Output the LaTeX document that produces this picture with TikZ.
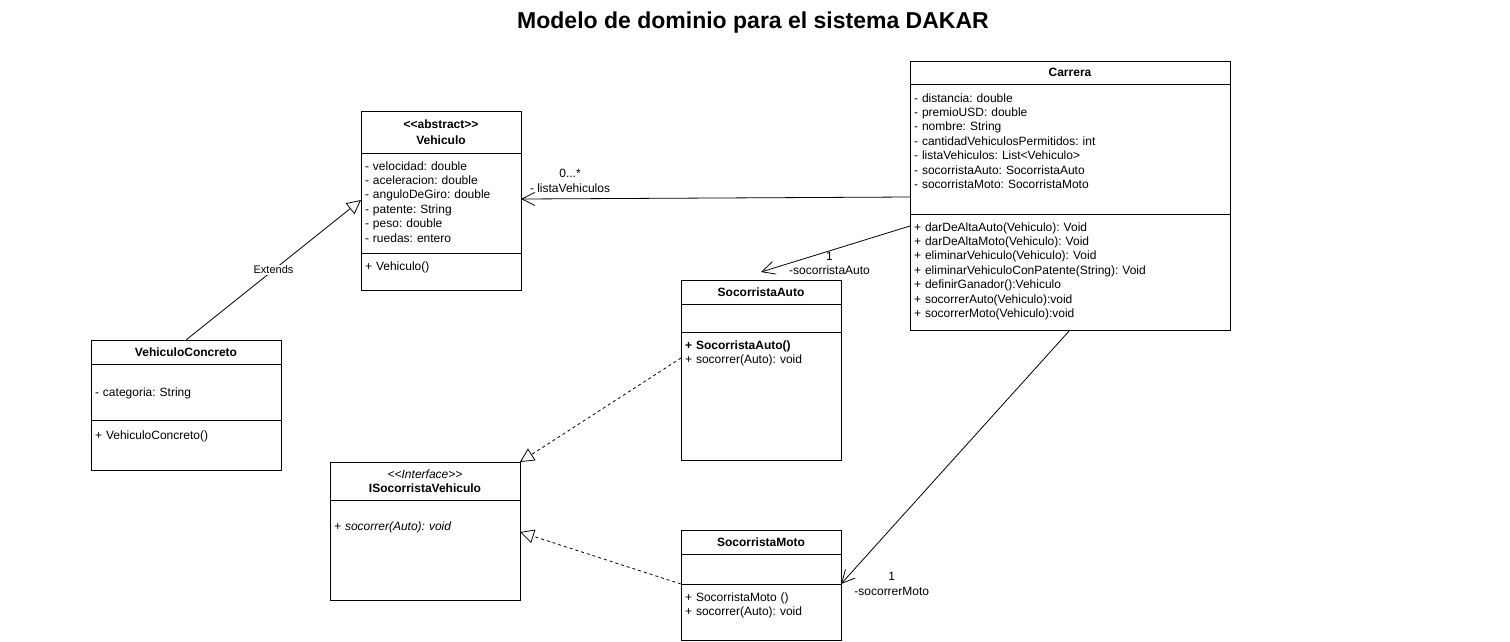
\documentclass[tikz,border=0pt]{standalone}
\usepackage{fontspec}
\setmainfont{Liberation Sans}
\usepackage{tikz}
\usetikzlibrary{shapes,arrows.meta,positioning}
\frenchspacing

\begin{document}
\begin{tikzpicture}[x=1pt, y=-1pt, font=\fontsize{12}{14.4}\selectfont]
    \tikzstyle{classhead} = [rectangle, draw, line width=1pt, inner sep=0pt, outer sep=0pt, anchor=north west, align=center, font=\fontsize{12}{14.4}\selectfont\bfseries]
    \tikzstyle{members} = [rectangle, draw, line width=1pt, inner xsep=4pt, inner ysep=4pt, outer sep=0pt, align=left, text height=13pt]
    \tikzstyle{arrow} = [line width=0.8pt, -{Straight Barb[length=13pt, width=13pt]}]
    \tikzstyle{extends} = [line width=0.8pt, -{Triangle[open, length=14pt, width=14pt, fill=white]}]
    \tikzstyle{realize} = [extends, dashed]
    \tikzstyle{rolelabel} = [align=center, inner sep=1pt]

    \useasboundingbox (0,0) rectangle (1510,641);

    % Title
    \node [anchor=base, font=\fontsize{23}{28}\selectfont\bfseries] (title) at (753,28) {Modelo de dominio para el sistema DAKAR};

    % Vehiculo
    \node [classhead, minimum width=160pt, minimum height=42pt] (vehiculo) at (361,111) {<{}<abstract>{}>\\[2pt]Vehiculo};
    \node [members, text width=152pt, text depth=79pt, below=0pt of vehiculo] (vehiculoattr) {- velocidad: double\\- aceleracion: double\\- anguloDeGiro: double\\- patente: String\\- peso: double\\- ruedas: entero};
    \node [members, text width=152pt, text depth=16pt, below=0pt of vehiculoattr] (vehiculometh) {+ Vehiculo()};

    % VehiculoConcreto
    \node [classhead, minimum width=190pt, minimum height=24pt] (vconcreto) at (91,340) {VehiculoConcreto};
    \node [members, text width=182pt, text height=28pt, text depth=20pt, below=0pt of vconcreto] (vconcretoattr) {- categoria: String};
    \node [members, text width=182pt, text height=15pt, text depth=27pt, below=0pt of vconcretoattr] (vconcretometh) {+ VehiculoConcreto()};

    % Carrera
    \node [classhead, minimum width=320pt, minimum height=23pt] (carrera) at (910,61) {Carrera};
    \node [members, text width=312pt, text height=14pt, text depth=108pt, below=0pt of carrera] (carreraattr) {- distancia: double\\- premioUSD: double\\- nombre: String\\- cantidadVehiculosPermitidos: int\\- listaVehiculos: List<Vehiculo>\\- socorristaAuto: SocorristaAuto\\- socorristaMoto: SocorristaMoto};
    \node [members, text width=312pt, text depth=95pt, below=0pt of carreraattr] (carrerameth) {+ darDeAltaAuto(Vehiculo): Void\\+ darDeAltaMoto(Vehiculo): Void\\+ eliminarVehiculo(Vehiculo): Void\\+ eliminarVehiculoConPatente(String): Void\\+ definirGanador():Vehiculo\\+ socorrerAuto(Vehiculo):void\\+ socorrerMoto(Vehiculo):void};

    % SocorristaAuto
    \node [classhead, minimum width=160pt, minimum height=24pt] (sauto) at (681,280) {SocorristaAuto};
    \node [members, text width=152pt, text depth=7pt, below=0pt of sauto] (sautoattr) {};
    \node [members, text width=152pt, text depth=107pt, below=0pt of sautoattr] (sautometh) {\textbf{+ SocorristaAuto()}\\+ socorrer(Auto): void};

    % ISocorristaVehiculo
    \node [classhead, minimum width=190pt, minimum height=38pt] (isocorrista) at (330,462) {{\mdseries\itshape <{}<Interface>{}>}\\ISocorristaVehiculo};
    \node [members, text width=182pt, text height=26pt, text depth=66pt, below=0pt of isocorrista] (isocmeth) {\textit{+ socorrer(Auto): void}};

    % SocorristaMoto
    \node [classhead, minimum width=160pt, minimum height=24pt] (smoto) at (681,530) {SocorristaMoto};
    \node [members, text width=152pt, text depth=9pt, below=0pt of smoto] (smotoattr) {};
    \node [members, text width=152pt, text depth=35pt, below=0pt of smotoattr] (smotometh) {+ SocorristaMoto ()\\+ socorrer(Auto): void};

    % Arrows
    \draw [extends] (vconcreto.north) -- node [fill=white, inner sep=1pt, font=\fontsize{11}{13}\selectfont] {Extends} ([yshift=3pt]vehiculoattr.west);
    \draw [arrow] ([yshift=-48pt]carreraattr.west) -- node [rolelabel, pos=0.874, above, yshift=5pt] {0...*\\- listaVehiculos} ([yshift=4pt]vehiculoattr.east);
    \draw [arrow] ([yshift=46pt]carrerameth.west) -- node [rolelabel, pos=0.54, anchor=north] {1\\-socorristaAuto} ([yshift=8pt]sauto.north);
    \draw [arrow] (carrerameth.south) -- (smotometh.north east) node [rolelabel, right=12pt] {1\\-socorrerMoto};
    \draw [realize] ([yshift=38pt]sautometh.west) -- (isocorrista.north east);
    \draw [realize] (smotometh.north west) -- ([yshift=18pt]isocmeth.east);
\end{tikzpicture}
\end{document}
